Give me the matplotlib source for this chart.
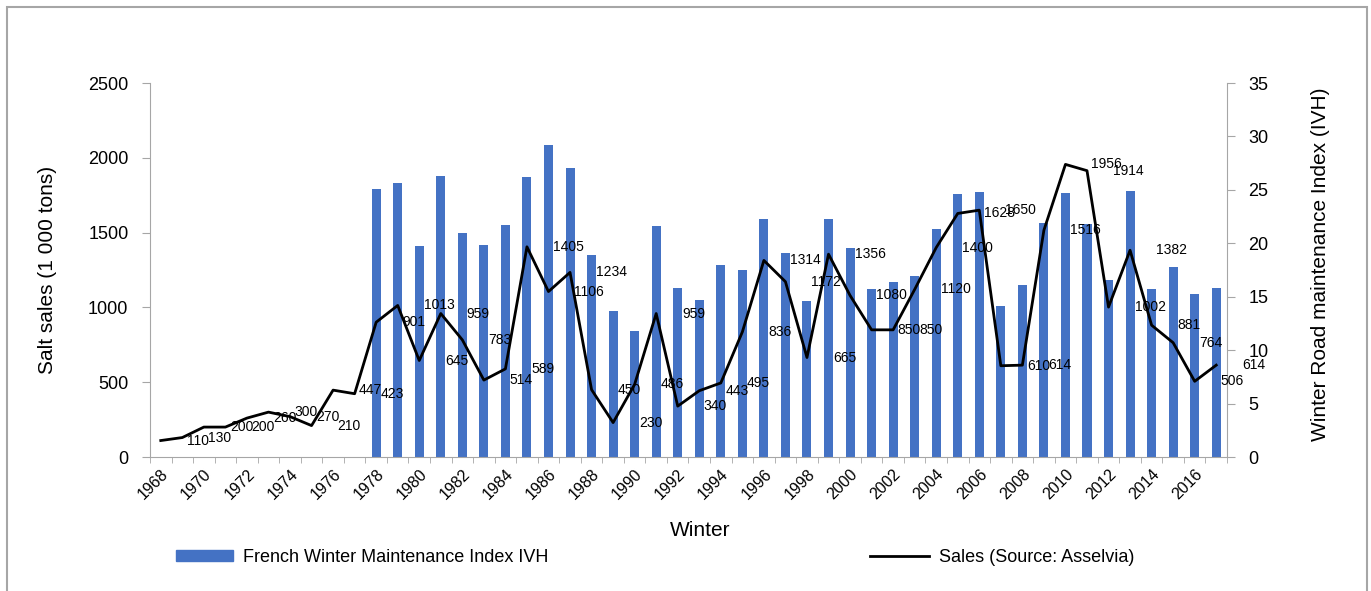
import matplotlib
matplotlib.use('Agg')

import matplotlib.pyplot as plt
import numpy as np
from matplotlib.patches import Patch, Rectangle
from matplotlib.lines import Line2D

plt.rcParams['font.family'] = ['Liberation Sans', 'DejaVu Sans']

# ---------------------------
# DATA
# ---------------------------
years = list(range(1968, 2018))
sales = [110, 130, 200, 200, 260, 300, 270, 210, 447, 423,
         901, 1013, 645, 959, 783, 514, 589, 1405, 1106, 1234,
         450, 230, 486, 959, 340, 443, 495, 836, 1314, 1172,
         665, 1356, 1080, 850, 850, 1120, 1400, 1628, 1650, 610,
         614, 1516, 1956, 1914, 1002, 1382, 881, 764, 506, 614]

ivh_years = list(range(1978, 2018))
ivh = [25.05, 25.6, 19.7, 26.3, 21.0, 19.8, 21.7, 26.2, 29.2, 27.0,
       18.9, 13.7, 11.8, 21.6, 15.8, 14.7, 18.0, 17.5, 22.3, 19.1,
       14.6, 22.3, 19.6, 15.7, 16.4, 16.9, 21.3, 24.6, 24.8, 14.1,
       16.1, 21.9, 24.7, 21.8, 16.6, 24.9, 15.7, 17.8, 15.3, 15.8]

BLUE = '#4472c4'
GREY = '#a6a6a6'
W, H = 1371, 591

# ---------------------------
# FIGURE
# ---------------------------
fig = plt.figure(figsize=(W / 100, H / 100), dpi=100)
ax = fig.add_axes([150 / W, 1 - 457 / H, (1227 - 150) / W, (457 - 83) / H])
ax2 = ax.twinx()

# bars (right axis)
ax2.bar(ivh_years, ivh, width=0.42, color=BLUE)
ax2.set_ylim(0, 35)
ax2.set_yticks(range(0, 36, 5))

# line (left axis), drawn above the bars
ax.plot(years, sales, color='black', lw=2)
ax.set_zorder(ax2.get_zorder() + 1)
ax.patch.set_visible(False)
ax.set_ylim(0, 2500)
ax.set_yticks(range(0, 2501, 500))

for yr, s in zip(years, sales):
    ax.annotate(str(s), (yr, s), xytext=(26, 0), textcoords='offset pixels',
                ha='left', va='center', fontsize=10)

# x axis
ax.set_xlim(1967.5, 2017.5)
ax.set_xticks(range(1968, 2017, 2))
ax.set_xticks(np.arange(1967.5, 2018, 1), minor=True)
ax.set_xticklabels([str(y) for y in range(1968, 2017, 2)], rotation=45,
                   ha='right', rotation_mode='anchor', fontsize=11.5)
ax.tick_params(axis='x', which='major', length=0, pad=7)
ax.tick_params(axis='x', which='minor', length=4.5, color=GREY)
ax.tick_params(axis='y', length=5.5, color=GREY, labelsize=13, pad=10)
ax2.tick_params(axis='y', length=5.5, color=GREY, labelsize=13, pad=10)

# spines
for a in (ax, ax2):
    a.spines['top'].set_visible(False)
ax.spines['right'].set_visible(False)
ax2.spines['left'].set_visible(False)
ax2.spines['bottom'].set_visible(False)
ax.spines['left'].set_color(GREY)
ax.spines['bottom'].set_color(GREY)
ax2.spines['right'].set_color(GREY)

# axis titles
fig.text(48 / W, 1 - 270 / H, 'Salt sales (1 000 tons)', rotation=90,
         ha='center', va='center', fontsize=15)
fig.text(1320 / W, 1 - 264 / H, 'Winter Road maintenance Index (IVH)',
         rotation=90, ha='center', va='center', fontsize=15)
fig.text(700 / W, 1 - 530 / H, 'Winter', ha='center', va='center', fontsize=15)

# ---------------------------
# LEGEND
# ---------------------------
fig.legend(handles=[Patch(color=BLUE)],
           labels=['French Winter Maintenance Index IVH'],
           loc='center left', bbox_to_anchor=(176 / W, 1 - 557 / H),
           frameon=False, fontsize=13, handlelength=3.16, handleheight=0.55,
           handletextpad=0.55, borderpad=0, borderaxespad=0)
fig.legend(handles=[Line2D([], [], color='black', lw=2)],
           labels=['Sales (Source: Asselvia)'],
           loc='center left', bbox_to_anchor=(870 / W, 1 - 557 / H),
           frameon=False, fontsize=13, handlelength=3.27, handleheight=0.55,
           handletextpad=0.55, borderpad=0, borderaxespad=0)

# outer frame
fig.patches.append(Rectangle((7 / W, -0.05), (1367 - 7) / W, 1 - 7 / H + 0.05,
                             transform=fig.transFigure, fill=False,
                             ec=GREY, lw=1.5))

fig.savefig('out.png', dpi=100)
